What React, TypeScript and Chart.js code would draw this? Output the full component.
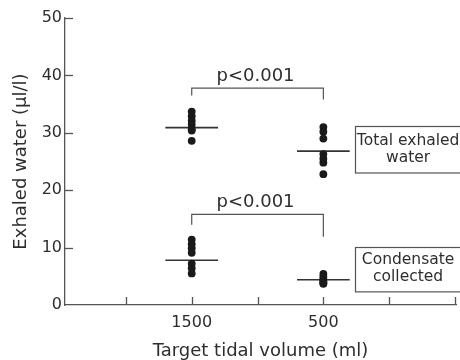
import React, { useEffect, useRef } from "react";
import { Chart, registerables } from "chart.js";

Chart.register(...registerables);

// ---- data ----
const categories = ["1500", "500"];
const categoryPositions = [2, 4];
const totalWater1500 = [33.7, 32.9, 32.1, 31.4, 30.6, 30.4, 28.6];
const totalWater500 = [31.0, 30.2, 29.0, 26.3, 25.5, 24.8, 22.8];
const condensate1500 = [11.4, 10.6, 9.9, 9.1, 7.2, 6.4, 5.5];
const condensate500 = [5.4, 4.9, 4.5, 4.2, 4.0, 3.8, 3.7];
const totalMeans = [30.9, 26.8];
const condensateMeans = [7.8, 4.4];
const yTicks = [0, 10, 20, 30, 40, 50];
const xTickPositions = [1, 2, 3, 4, 5, 6];
const pLabel = "p<0.001";
const boxLabelsTotal = ["Total exhaled", "water"];
const boxLabelsCondensate = ["Condensate", "collected"];

const FONT = "'DejaVu Sans', sans-serif";
const INK = "#2e2e2e";
const LINE = "#555";

const dots = (pos: number, vals: number[]) => vals.map((v) => ({ x: pos, y: v }));
const meanLine = (pos: number, m: number) => [
  { x: pos - 0.4, y: m },
  { x: pos + 0.4, y: m },
];

const brackets = [
  { left: 36.5, top: 37.8, right: 35.8 },
  { left: 14.0, top: 15.8, right: 11.9 },
];

const boxes = [
  { x0: 4.475, x1: 6.1, yTop: 31.1, yBottom: 23.0, lines: boxLabelsTotal },
  { x0: 4.475, x1: 6.1, yTop: 10.17, yBottom: 2.44, lines: boxLabelsCondensate },
];

const annotationPlugin = {
  id: "annotations",
  afterDatasetsDraw(chart: any) {
    const { ctx, scales } = chart;
    const x = scales.x;
    const y = scales.y;
    ctx.save();
    ctx.strokeStyle = LINE;
    ctx.lineWidth = 1.3;
    // inward tick marks
    for (const v of xTickPositions) {
      const px = Math.round(x.getPixelForValue(v)) + 0.5;
      ctx.beginPath();
      ctx.moveTo(px, y.bottom);
      ctx.lineTo(px, y.bottom - 8);
      ctx.stroke();
    }
    for (const v of yTicks) {
      if (v === 0) continue;
      const py = Math.round(y.getPixelForValue(v)) + 0.5;
      ctx.beginPath();
      ctx.moveTo(x.left, py);
      ctx.lineTo(x.left + 8, py);
      ctx.stroke();
    }
    // p labels
    ctx.fillStyle = INK;
    ctx.font = `18px ${FONT}`;
    ctx.textAlign = "center";
    ctx.textBaseline = "alphabetic";
    const mid = (categoryPositions[0] + categoryPositions[1]) / 2;
    for (const b of brackets) {
      ctx.fillText(pLabel, x.getPixelForValue(mid) - 2, y.getPixelForValue(b.top) - 7);
    }
    // label boxes
    ctx.font = `15.5px ${FONT}`;
    ctx.textBaseline = "middle";
    ctx.lineWidth = 1.2;
    for (const bx of boxes) {
      const l = x.getPixelForValue(bx.x0);
      const r = x.getPixelForValue(bx.x1);
      const t = y.getPixelForValue(bx.yTop);
      const bt = y.getPixelForValue(bx.yBottom);
      ctx.strokeRect(Math.round(l) + 0.5, Math.round(t) + 0.5, r - l, bt - t);
      const cx = (l + r) / 2;
      const cy = (t + bt) / 2;
      ctx.fillText(bx.lines[0], cx, cy - 8.5);
      ctx.fillText(bx.lines[1], cx, cy + 8.5);
    }
    ctx.restore();
  },
};

export default function App() {
  const ref = useRef<HTMLCanvasElement | null>(null);
  useEffect(() => {
    if (!ref.current) return;
    Chart.defaults.font.family = FONT;
    const dotStyle = {
      type: "scatter" as const,
      pointRadius: 3.9,
      pointBackgroundColor: "#1a1a1a",
      pointBorderWidth: 0,
      showLine: false,
    };
    const lineStyle = {
      type: "line" as const,
      borderColor: "#333",
      borderWidth: 1.6,
      pointRadius: 0,
      fill: false,
      tension: 0,
    };
    const bracketStyle = {
      type: "line" as const,
      borderColor: LINE,
      borderWidth: 1.2,
      pointRadius: 0,
      fill: false,
      tension: 0,
    };
    const chart = new Chart(ref.current, {
      type: "scatter",
      data: {
        datasets: [
          { ...dotStyle, data: dots(categoryPositions[0], totalWater1500) },
          { ...dotStyle, data: dots(categoryPositions[1], totalWater500) },
          { ...dotStyle, data: dots(categoryPositions[0], condensate1500) },
          { ...dotStyle, data: dots(categoryPositions[1], condensate500) },
          { ...lineStyle, data: meanLine(categoryPositions[0], totalMeans[0]) },
          { ...lineStyle, data: meanLine(categoryPositions[1], totalMeans[1]) },
          { ...lineStyle, data: meanLine(categoryPositions[0], condensateMeans[0]) },
          { ...lineStyle, data: meanLine(categoryPositions[1], condensateMeans[1]) },
          ...brackets.map((b) => ({
            ...bracketStyle,
            data: [
              { x: categoryPositions[0], y: b.left },
              { x: categoryPositions[0], y: b.top },
              { x: categoryPositions[1], y: b.top },
              { x: categoryPositions[1], y: b.right },
            ],
          })),
        ] as any,
      },
      options: {
        responsive: false,
        animation: false,
        layout: { padding: { left: 11, top: 18, right: 0, bottom: 0 } },
        plugins: { legend: { display: false }, tooltip: { enabled: false } },
        scales: {
          x: {
            type: "linear",
            min: 0.075,
            max: 6.015,
            afterBuildTicks: (s: any) => {
              s.ticks = xTickPositions.map((v) => ({ value: v }));
            },
            afterFit: (s: any) => {
              s.height = 55;
              s.paddingLeft = 0;
              s.paddingRight = 0;
            },
            ticks: {
              autoSkip: false,
              maxRotation: 0,
              padding: 8,
              color: INK,
              font: { size: 16, family: FONT },
              callback: (v: any) => {
                const i = categoryPositions.indexOf(Number(v));
                return i >= 0 ? categories[i] : "";
              },
            },
            grid: { display: false, drawTicks: false },
            border: { display: true, color: LINE, width: 1.3 },
            title: {
              display: true,
              text: "Target tidal volume (ml)",
              color: INK,
              font: { size: 18, family: FONT },
              padding: { top: 0, bottom: -2 },
            },
          },
          y: {
            type: "linear",
            min: 0,
            max: 50,
            afterBuildTicks: (s: any) => {
              s.ticks = yTicks.map((v) => ({ value: v }));
            },
            afterFit: (s: any) => {
              s.width = 54;
            },
            ticks: {
              padding: 3,
              color: INK,
              font: { size: 16, family: FONT },
            },
            grid: { display: false, drawTicks: false },
            border: { display: true, color: LINE, width: 1.3 },
            title: {
              display: true,
              text: "Exhaled water (μl/l)",
              color: INK,
              font: { size: 18, family: FONT },
              padding: { top: 0, bottom: 0 },
            },
          },
        },
      },
      plugins: [annotationPlugin],
    });
    return () => chart.destroy();
  }, []);
  return (
    <div style={{ position: "absolute", left: 0, top: 0, width: 460, height: 360 }}>
      <canvas ref={ref} width={460} height={360} />
    </div>
  );
}
